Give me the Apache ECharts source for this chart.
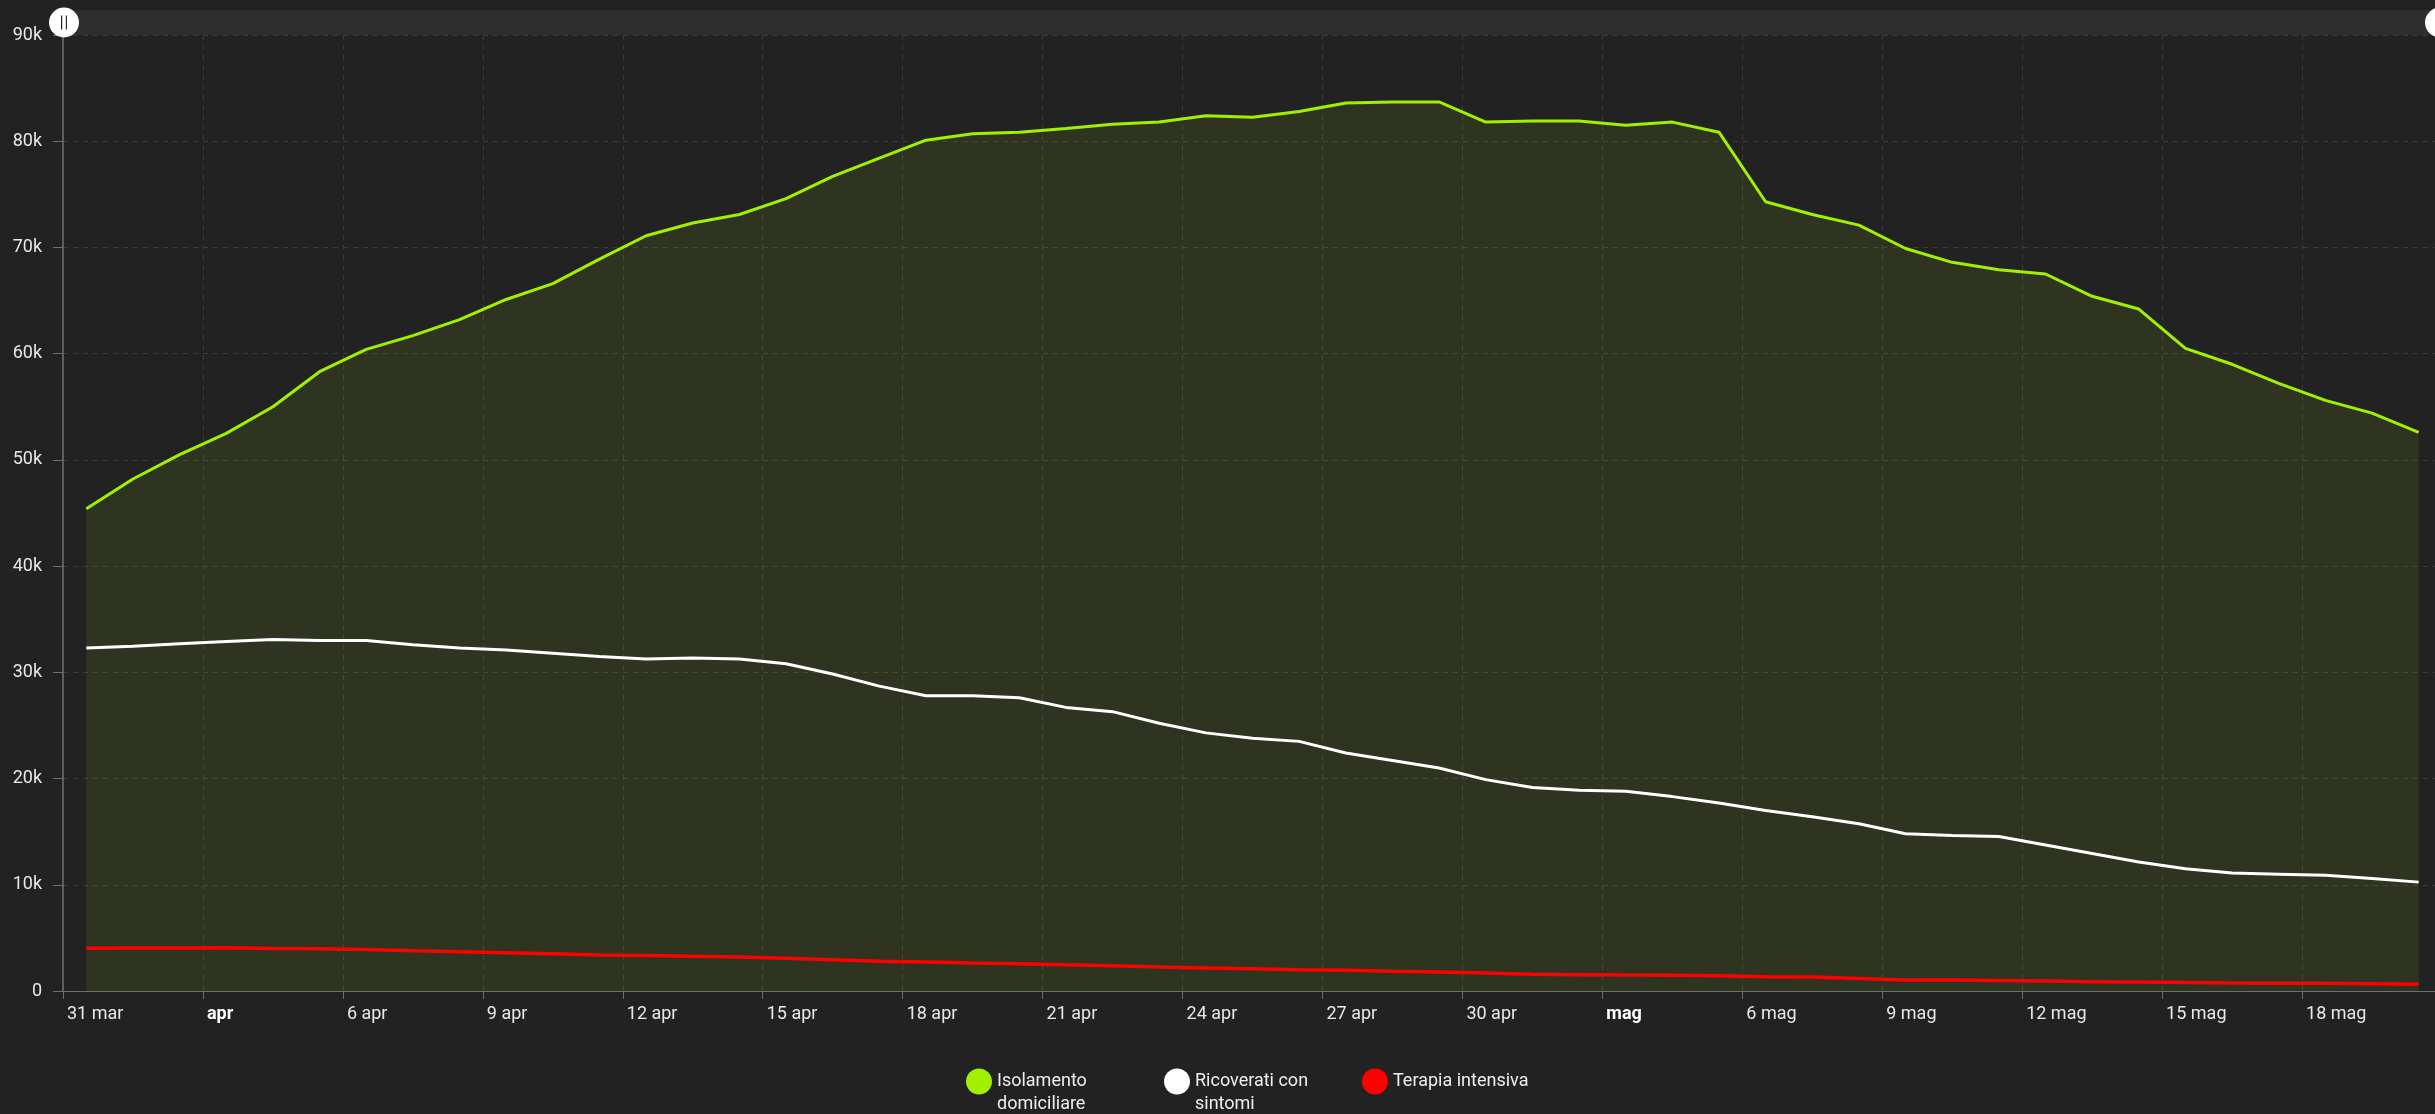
<!DOCTYPE html>
<html>
<head>
<meta charset="utf-8">
<title>Isolamento domiciliare, ricoverati, terapia intensiva</title>
<script src="https://cdn.jsdelivr.net/npm/echarts@6.0.0/dist/echarts.min.js"></script>
<style>
  html, body { margin: 0; padding: 0; background: #222222; overflow: hidden; }
  #main { width: 2445px; height: 1114px; }
</style>
</head>
<body>
<div id="main"></div>
<script>
// giorni (31 mar - 20 mag 2020)
const days = [
  '2020-03-31', '2020-04-01', '2020-04-02', '2020-04-03', '2020-04-04', '2020-04-05', '2020-04-06', '2020-04-07',
  '2020-04-08', '2020-04-09', '2020-04-10', '2020-04-11', '2020-04-12', '2020-04-13', '2020-04-14', '2020-04-15',
  '2020-04-16', '2020-04-17', '2020-04-18', '2020-04-19', '2020-04-20', '2020-04-21', '2020-04-22', '2020-04-23',
  '2020-04-24', '2020-04-25', '2020-04-26', '2020-04-27', '2020-04-28', '2020-04-29', '2020-04-30', '2020-05-01',
  '2020-05-02', '2020-05-03', '2020-05-04', '2020-05-05', '2020-05-06', '2020-05-07', '2020-05-08', '2020-05-09',
  '2020-05-10', '2020-05-11', '2020-05-12', '2020-05-13', '2020-05-14', '2020-05-15', '2020-05-16', '2020-05-17',
  '2020-05-18', '2020-05-19', '2020-05-20'
];

const isolamento = [
  45400, 48200, 50500, 52500, 55000, 58300, 60400, 61700, 63200, 65100,
  66600, 68900, 71100, 72300, 73100, 74600, 76700, 78400, 80100, 80700,
  80850, 81200, 81600, 81800, 82400, 82250, 82800, 83600, 83700, 83700,
  81800, 81900, 81900, 81500, 81800, 80850, 74300, 73100, 72100, 69900,
  68600, 67900, 67500, 65400, 64200, 60500, 59000, 57200, 55600, 54400,
  52600
];

const ricoverati = [
  32300, 32450, 32700, 32900, 33100, 33000, 33000, 32600, 32300, 32100,
  31800, 31500, 31250, 31350, 31250, 30800, 29850, 28700, 27800, 27800,
  27600, 26700, 26300, 25200, 24300, 23800, 23500, 22400, 21700, 21000,
  19900, 19150, 18900, 18800, 18300, 17700, 17000, 16400, 15750, 14800,
  14650, 14550, 13750, 12950, 12150, 11500, 11100, 11000, 10900, 10600,
  10250
];

const terapia = [
  4020, 4040, 4050, 4070, 3990, 3980, 3900, 3790, 3690, 3600,
  3500, 3380, 3340, 3260, 3190, 3080, 2940, 2810, 2730, 2640,
  2570, 2470, 2380, 2270, 2170, 2100, 2010, 1960, 1860, 1800,
  1690, 1580, 1540, 1500, 1480, 1430, 1330, 1310, 1170, 1030,
  1030, 1000, 940, 880, 840, 790, 760, 740, 720, 690,
  640
];

const seriesNames = ['Isolamento domiciliare', 'Ricoverati con sintomi', 'Terapia intensiva'];
// riga vuota in testa: la prima riga di testo resta all'altezza del pallino
const legendLabels = ['\nIsolamento\ndomiciliare', '\nRicoverati con\nsintomi', '\nTerapia intensiva\n '];

// una tacca ogni 3 giorni
const xTickLabels = ['31 mar', 'apr', '6 apr', '9 apr', '12 apr', '15 apr', '18 apr', '21 apr', '24 apr',
  '27 apr', '30 apr', 'mag', '6 mag', '9 mag', '12 mag', '15 mag', '18 mag', '21 mag'];
const yTickLabels = ['0', '10k', '20k', '30k', '40k', '50k', '60k', '70k', '80k', '90k'];

const DAY = 86400000;
const start = Date.parse(days[0]);
// punto a metà giornata
function pairs(values) {
  return values.map((v, i) => [(Date.parse(days[i]) - start) / DAY + 0.5, v]);
}

const font = 'Roboto, "Noto Sans", sans-serif';
const labelColor = '#e8e8e8';
const gridColor = '#3b3b3b';
const axisColor = '#707070';

const chart = echarts.init(document.getElementById('main'));

chart.setOption({
  backgroundColor: '#222222',
  animation: false,
  textStyle: { fontFamily: font },
  grid: { left: 63, right: 3, top: 35, bottom: 123, containLabel: false, outerBoundsMode: 'none' },
  dataZoom: [{
    type: 'slider',
    xAxisIndex: 0,
    filterMode: 'none',
    start: 0,
    end: 100,
    left: 62,
    right: 5,
    top: 10,
    height: 25,
    backgroundColor: '#2e2e2e',
    fillerColor: 'rgba(0,0,0,0)',
    borderColor: 'transparent',
    borderRadius: 0,
    showDetail: false,
    showDataShadow: false,
    brushSelect: false,
    moveHandleSize: 0,
    handleIcon: 'path://M0,-15A15,15,0,1,1,0,15A15,15,0,1,1,0,-15Z M-3,-7L-3,7L-1.8,7L-1.8,-7Z M1.8,-7L1.8,7L3,7L3,-7Z',
    handleSize: 30,
    handleStyle: { color: '#ffffff', borderWidth: 0 },
    dataBackground: { lineStyle: { opacity: 0 }, areaStyle: { opacity: 0 } },
    selectedDataBackground: { lineStyle: { opacity: 0 }, areaStyle: { opacity: 0 } }
  }],
  xAxis: {
    type: 'value',
    min: 0,
    max: 51,
    interval: 3,
    axisLine: { show: true, lineStyle: { color: axisColor, width: 1 } },
    axisTick: { show: true, length: 8, lineStyle: { color: axisColor } },
    splitLine: { show: true, lineStyle: { color: gridColor, type: [5, 5] } },
    axisLabel: {
      color: labelColor,
      fontSize: 18,
      fontFamily: font,
      align: 'left',
      margin: 14,
      padding: [0, 0, 0, 4],
      formatter: function (v) {
        const t = xTickLabels[Math.round(v / 3)] || '';
        return /\d/.test(t) ? t : '{b|' + t + '}';
      },
      rich: { b: { fontWeight: 'bold', fontSize: 18, color: '#ffffff', fontFamily: font } }
    }
  },
  yAxis: {
    type: 'value',
    min: 0,
    max: 90000,
    interval: 10000,
    axisLine: { show: true, lineStyle: { color: axisColor, width: 1.5 } },
    axisTick: { show: true, length: 10, lineStyle: { color: axisColor } },
    splitLine: { show: true, lineStyle: { color: gridColor, type: [5, 5] } },
    axisLabel: {
      color: labelColor,
      fontSize: 18,
      fontFamily: font,
      margin: 21,
      formatter: function (v) { return yTickLabels[Math.round(v / 10000)]; }
    }
  },
  legend: {
    left: 961,
    top: 1042,
    icon: 'circle',
    itemWidth: 26,
    itemHeight: 26,
    itemGap: 37,
    itemStyle: { borderWidth: 0 },
    data: seriesNames,
    formatter: function (name) { return legendLabels[seriesNames.indexOf(name)]; },
    textStyle: { color: '#eeeeee', fontSize: 18, lineHeight: 23, width: 130, fontFamily: font }
  },
  series: [
    {
      name: seriesNames[0],
      type: 'line',
      data: pairs(isolamento),
      showSymbol: false,
      color: '#a0f000',
      itemStyle: { color: '#a0f000' },
      lineStyle: { width: 3, color: '#a0f000' },
      areaStyle: { color: 'rgba(135,185,25,0.18)', origin: 'start' }
    },
    {
      name: seriesNames[1],
      type: 'line',
      data: pairs(ricoverati),
      showSymbol: false,
      color: '#ffffff',
      itemStyle: { color: '#ffffff' },
      lineStyle: { width: 3, color: '#ffffff' }
    },
    {
      name: seriesNames[2],
      type: 'line',
      data: pairs(terapia),
      showSymbol: false,
      color: '#ff0000',
      itemStyle: { color: '#ff0000' },
      lineStyle: { width: 3.5, color: '#ff0000' }
    }
  ]
});
</script>
</body>
</html>
